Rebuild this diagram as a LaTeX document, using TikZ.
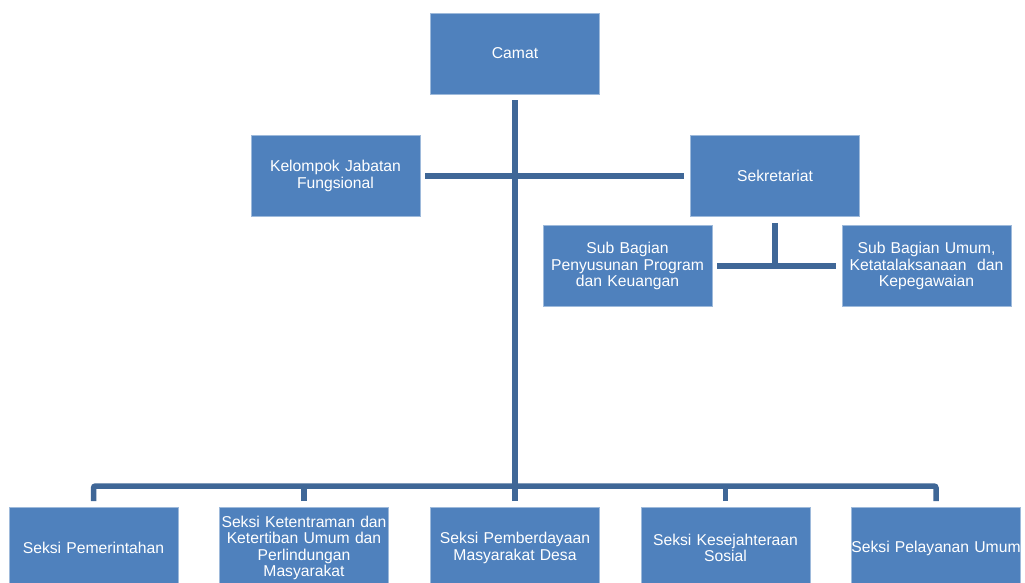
\documentclass[tikz,border=0pt]{standalone}
\usepackage{fontspec}
\setmainfont{Liberation Sans}
\usepackage{xcolor}
\usetikzlibrary{positioning, calc}

\definecolor{boxblue}{HTML}{4F81BD}
\definecolor{lineblue}{HTML}{3F6797}

\begin{document}
\begin{tikzpicture}[
        x=1pt, y=1pt,
        font=\fontsize{15.7}{16.5}\selectfont,
        block/.style = {
            draw=boxblue!55!white,
            line width=0.6pt,
            fill=boxblue,
            text=white,
            rectangle,
            inner sep=0pt,
            minimum height=81pt,
            minimum width=169pt,
            text width=166pt,
            align=center,
        },
        link/.style = {
            draw=lineblue,
            line width=5.5pt,
        }
    ]

	    \useasboundingbox (0,0) rectangle (1025,-582);

	    \node[block] (camat) at (515,-53.5) {Camat};

	    \node[block] (kjf) at (335.5,-176) {Kelompok Jabatan\\Fungsional};
	    \node[block] (sekr) at (775,-176) {Sekretariat};

	    \node[block] (sub1) at (627.5,-266) {Sub Bagian\\Penyusunan Program\\dan Keuangan};
	    \node[block] (sub2) at (926.5,-266) {Sub Bagian Umum,\\Ketatalaksanaan\ \ dan\\Kepegawaian};

	    \node[block] (seksi1) at (93.5,-548) {Seksi Pemerintahan};
	    \node[block] (seksi2) at (304,-548) {Seksi Ketentraman dan\\Ketertiban Umum dan\\Perlindungan\\Masyarakat};
	    \node[block] (seksi3) at (515,-548) {Seksi Pemberdayaan\\Masyarakat Desa};
	    \node[block] (seksi4) at (725.5,-548) {Seksi Kesejahteraan\\Sosial};
	    \node[block] (seksi5) at (936,-548) {\makebox[0pt]{Seksi Pelayanan Umum}};

	    \coordinate (bus) at (515,-486);

	    % trunk from Camat down to the row of Seksi
	    \draw[link] ([yshift=-6pt]camat.south) -- (bus);

	    \draw[link] ([xshift=5pt]kjf.east) -- ([xshift=-6pt]sekr.west);

	    \draw[link] ([yshift=-6pt]sekr.south) -- (sekr.south |- sub1.east);
	    \draw[link] ([xshift=5pt]sub1.east) -- ([xshift=-6pt]sub2.west);

	    \draw[link, rounded corners=2pt] ([yshift=6pt]seksi1.north) |- (bus) -| ([yshift=6pt]seksi5.north);
	    \draw[link] ([yshift=6pt]seksi2.north) -- (seksi2.north |- bus);
	    \draw[link] ([yshift=6pt]seksi3.north) -- (seksi3.north |- bus);
	    \draw[link] ([yshift=6pt]seksi4.north) -- (seksi4.north |- bus);

    \end{tikzpicture}
\end{document}
